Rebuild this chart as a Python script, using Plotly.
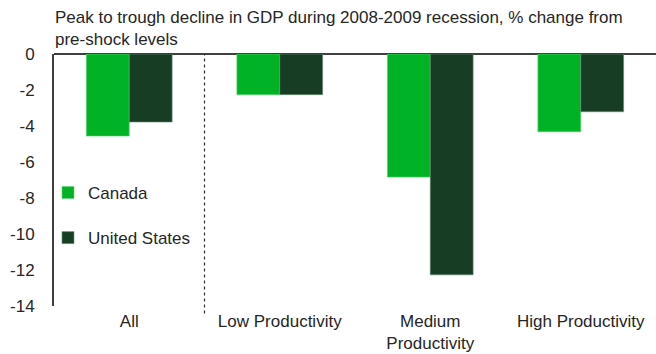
import plotly.graph_objects as go

categories = ["All", "Low Productivity", "Medium<br>Productivity", "High Productivity"]
canada = [-4.56, -2.26, -6.84, -4.32]
united_states = [-3.78, -2.26, -12.27, -3.21]
tick_vals = [0, -2, -4, -6, -8, -10, -12, -14]
tick_text = ["0", "-2", "-4", "-6", "-8", "-10", "-12", "-14"]

title_text = "Peak to trough decline in GDP during 2008-2009 recession, % change from<br>pre-shock levels"

font_family = "Liberation Sans, Arial, sans-serif"
text_color = "#262626"
fs = 17

fig = go.Figure()
fig.add_trace(go.Bar(
    x=categories, y=canada, name="Canada",
    marker=dict(color="#00B324", line=dict(color="#5ed47a", width=0.6)),
    legendgroup="a",
))
fig.add_trace(go.Bar(
    x=categories, y=united_states, name="United States",
    marker=dict(color="#183D25", line=dict(color="#6b8f78", width=0.6)),
    legendgroup="b",
))

# dotted separator between "All" and the productivity groups
fig.add_shape(type="line", xref="x", yref="paper", x0=0.5, x1=0.5, y0=-0.03, y1=1,
              line=dict(color="#333333", width=1.2, dash="dot"))

fig.update_layout(
    width=656, height=354,
    margin=dict(l=54, r=0, t=54, b=48),
    paper_bgcolor="white", plot_bgcolor="white",
    font=dict(family=font_family, size=fs, color=text_color),
    barmode="group", bargap=0.43, bargroupgap=0,
    showlegend=True,
    legend=dict(x=-0.01, y=0.52, xanchor="left", yanchor="top",
                bgcolor="rgba(0,0,0,0)", tracegroupgap=20,
                font=dict(size=fs, color=text_color)),
    annotations=[dict(text=title_text, xref="paper", yref="paper", x=-0.002, y=1.0,
                      yshift=26, xanchor="left", yanchor="middle", align="left",
                      showarrow=False, font=dict(size=fs, color=text_color))],
)
fig.update_xaxes(showline=False, ticks="", showgrid=False, zeroline=False, automargin=False,
                 tickfont=dict(size=fs, color=text_color), ticklabelstandoff=3)
fig.update_yaxes(range=[-14, 0], tickvals=tick_vals, ticktext=tick_text, automargin=False,
                 showgrid=False, zeroline=True, zerolinecolor="#404040", zerolinewidth=2,
                 showline=True, linecolor="#404040", linewidth=2, ticks="",
                 tickfont=dict(size=fs, color=text_color), ticklabelstandoff=14)

fig.write_html("out.html")
